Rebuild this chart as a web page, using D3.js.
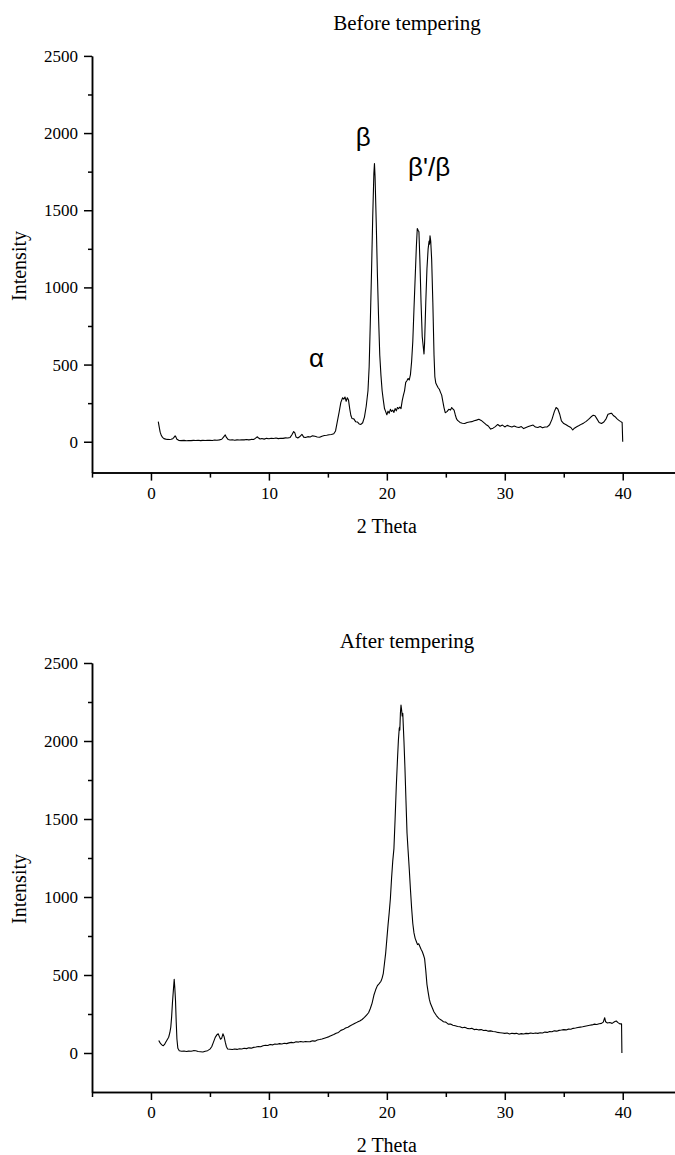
<!DOCTYPE html>
<html>
<head>
<meta charset="utf-8">
<script src="https://cdn.jsdelivr.net/npm/d3@7"></script>
<style>
  body { margin: 0; background: #fff; }
  svg { display: block; }
</style>
</head>
<body>
<svg width="675" height="1155"></svg>
<script>
// before tempering (2 theta, intensity)
const beforeTheta = [0.62,0.70,0.78,0.88,0.98,1.10,1.25,1.40,1.55,1.70,1.85,1.95,2.05,2.12,2.20,2.35,2.55,2.8,3.0,3.2,3.4,3.6,3.8,4.0,4.2,4.4,4.6,4.8,5.0,5.2,5.4,5.6,5.8,6.0,6.15,6.3,6.4,6.55,6.7,6.9,7.1,7.3,7.5,7.7,7.9,8.1,8.3,8.5,8.7,8.85,9.0,9.1,9.25,9.4,9.6,9.8,10.0,10.2,10.4,10.6,10.8,11.0,11.2,11.4,11.6,11.8,11.95,12.1,12.2,12.3,12.45,12.6,12.8,12.95,13.1,13.3,13.5,13.7,13.9,14.1,14.3,14.5,14.7,14.9,15.1,15.3,15.5,15.65,15.8,15.95,16.1,16.25,16.35,16.45,16.55,16.65,16.75,16.85,16.95,17.05,17.2,17.35,17.5,17.65,17.8,17.95,18.1,18.25,18.4,18.5,18.6,18.7,18.8,18.9,18.95,19.0,19.1,19.2,19.3,19.4,19.5,19.6,19.7,19.8,19.9,20.0,20.1,20.2,20.3,20.4,20.5,20.6,20.7,20.8,20.9,21.0,21.1,21.2,21.3,21.4,21.5,21.6,21.7,21.8,21.9,22.0,22.1,22.2,22.3,22.4,22.5,22.58,22.65,22.72,22.8,22.9,23.0,23.08,23.15,23.2,23.3,23.4,23.5,23.58,23.62,23.66,23.72,23.8,23.9,24.0,24.07,24.15,24.25,24.35,24.45,24.55,24.65,24.75,24.85,24.95,25.1,25.25,25.4,25.5,25.6,25.7,25.8,25.9,26.0,26.2,26.4,26.6,26.8,27.0,27.2,27.4,27.6,27.8,28.0,28.2,28.4,28.6,28.8,29.0,29.2,29.4,29.6,29.8,30.0,30.2,30.4,30.6,30.8,31.0,31.2,31.4,31.6,31.8,32.0,32.2,32.4,32.6,32.8,33.0,33.2,33.4,33.6,33.8,34.0,34.2,34.35,34.5,34.65,34.8,35.0,35.2,35.4,35.6,35.76,35.9,36.1,36.3,36.5,36.7,36.9,37.1,37.3,37.5,37.65,37.8,38.0,38.2,38.4,38.6,38.75,38.9,39.05,39.2,39.35,39.5,39.65,39.8,39.95,40.0];
const beforeIntensity = [130,95,62,40,28,20,17,15,14,16,20,28,38,30,16,9,7,9,6,8,7,9,8,10,7,9,8,10,9,8,11,10,12,16,30,44,28,14,11,13,10,12,11,13,12,14,12,15,14,22,32,26,18,21,17,22,19,23,21,24,20,23,22,25,24,28,45,66,58,30,24,32,48,30,27,33,31,38,35,31,29,36,40,42,45,47,52,70,130,190,255,285,276,290,262,285,270,215,170,150,148,130,128,115,112,123,160,230,330,486,780,1100,1450,1740,1803,1720,1420,1080,800,560,430,330,270,215,195,175,198,185,210,196,205,190,215,200,222,214,225,215,265,300,330,385,395,410,400,435,520,650,860,1060,1260,1382,1370,1360,1180,900,680,620,568,640,900,1120,1250,1300,1280,1334,1300,1180,900,560,421,380,365,350,340,320,302,260,220,188,195,210,205,222,212,205,175,150,138,125,120,118,125,128,130,136,140,146,138,125,112,102,82,88,98,112,100,108,96,106,100,95,102,96,92,98,85,92,98,104,108,95,92,98,90,95,96,110,145,195,222,212,180,135,118,110,100,92,76,88,97,105,114,122,132,145,160,172,168,150,125,118,128,150,178,182,185,170,162,150,140,132,125,0];

// after tempering
const afterTheta = [0.66,0.75,0.84,0.95,1.05,1.15,1.25,1.35,1.5,1.6,1.68,1.75,1.82,1.9,1.97,2.02,2.08,2.14,2.2,2.28,2.4,2.6,2.8,3.0,3.2,3.4,3.6,3.8,4.0,4.2,4.4,4.6,4.8,5.0,5.15,5.3,5.45,5.6,5.7,5.8,5.9,6.0,6.1,6.2,6.3,6.4,6.5,6.7,6.9,7.1,7.3,7.5,7.7,7.9,8.1,8.3,8.5,8.7,8.9,9.1,9.3,9.5,9.7,9.9,10.1,10.3,10.5,10.7,10.9,11.1,11.3,11.5,11.7,11.9,12.1,12.3,12.5,12.7,12.9,13.1,13.3,13.5,13.7,13.9,14.1,14.3,14.5,14.7,14.9,15.1,15.3,15.5,15.7,15.9,16.1,16.3,16.5,16.7,16.9,17.1,17.3,17.5,17.7,17.9,18.1,18.3,18.45,18.6,18.75,18.9,19.05,19.2,19.35,19.5,19.6,19.7,19.8,19.9,20.0,20.1,20.2,20.3,20.4,20.5,20.6,20.7,20.8,20.9,20.98,21.05,21.09,21.1,21.15,21.2,21.25,21.3,21.35,21.45,21.53,21.62,21.71,21.8,21.9,22.0,22.1,22.2,22.3,22.4,22.5,22.6,22.7,22.8,22.9,23.0,23.1,23.2,23.3,23.4,23.5,23.6,23.7,23.85,24.0,24.2,24.4,24.6,24.8,25.0,25.2,25.4,25.6,25.8,26.0,26.2,26.4,26.6,26.8,27.0,27.2,27.4,27.6,27.8,28.0,28.2,28.4,28.6,28.8,29.0,29.2,29.4,29.6,29.8,30.0,30.2,30.4,30.6,30.8,31.0,31.2,31.4,31.6,31.8,32.0,32.2,32.4,32.6,32.8,33.0,33.2,33.4,33.6,33.8,34.0,34.2,34.4,34.6,34.8,35.0,35.2,35.4,35.6,35.8,36.0,36.2,36.4,36.6,36.8,37.0,37.2,37.4,37.6,37.8,38.0,38.2,38.35,38.47,38.55,38.7,38.9,39.1,39.3,39.45,39.6,39.75,39.9,39.93];
const afterIntensity = [80,68,58,50,47,55,69,82,101,130,166,230,320,403,472,420,338,200,90,30,15,11,13,10,12,11,15,14,10,8,6,11,15,25,40,70,100,118,123,105,88,95,123,105,69,40,26,24,22,26,23,27,26,30,28,33,31,36,38,42,40,47,50,48,55,52,58,56,60,58,62,60,65,68,66,72,70,74,71,74,72,73,78,76,83,86,90,95,100,105,112,118,127,132,145,150,160,165,175,182,190,198,205,215,228,245,258,285,320,370,405,432,445,460,480,511,575,640,730,820,900,990,1120,1230,1310,1500,1708,1880,2006,2080,2091,2070,2180,2230,2200,2160,2177,2000,1836,1620,1410,1300,1180,1050,930,830,770,735,715,695,700,683,665,651,630,605,530,440,390,345,317,290,263,240,222,212,200,198,185,186,178,175,170,168,162,165,158,155,158,150,152,148,150,144,146,140,142,138,136,132,130,128,126,128,122,127,124,126,120,124,122,126,124,128,125,128,126,130,128,134,132,138,136,142,140,145,147,150,148,153,152,158,160,163,166,168,172,175,178,180,185,183,188,190,198,226,200,192,195,190,200,205,195,187,187,0];

const xTicks = [0, 10, 20, 30, 40];
const xMinorTicks = [-5, 5, 15, 25, 35, 45];
const yTicks = [0, 500, 1000, 1500, 2000, 2500];
const yMinorTicks = [250, 750, 1250, 1750, 2250];

const svg = d3.select('svg');
svg.append('rect').attr('width', 675).attr('height', 1155).attr('fill', '#fff');

const serif = '"Liberation Serif", "Times New Roman", serif';
const sans = '"Liberation Sans", Arial, sans-serif';

const x = d3.scaleLinear().domain([-5, 45]).range([92, 681.7]);

// black axis lines and serif tick labels
function styleAxis(sel) {
  sel.selectAll('path, line').attr('stroke', '#000').attr('stroke-width', 1.5);
  sel.selectAll('text')
    .attr('fill', '#000')
    .style('font-family', serif)
    .style('font-size', '17px');
}

function drawPanel(opts) {
  const y = d3.scaleLinear().domain(opts.yDomain).range(opts.yRange);
  const g = svg.append('g');
  const baseY = opts.yRange[0];

  // minor ticks first, then major axis with labels
  g.append('g')
    .attr('transform', `translate(0,${baseY})`)
    .call(d3.axisBottom(x).tickValues(xMinorTicks).tickSize(5).tickSizeOuter(0).tickFormat(''))
    .call(styleAxis);
  g.append('g')
    .attr('transform', `translate(0,${baseY})`)
    .call(d3.axisBottom(x).tickValues(xTicks).tickSize(8).tickSizeOuter(0).tickPadding(6).tickFormat(d3.format('d')))
    .call(styleAxis);

  g.append('g')
    .attr('transform', 'translate(92,0)')
    .call(d3.axisLeft(y).tickValues(yMinorTicks).tickSize(4).tickSizeOuter(0).tickFormat(''))
    .call(styleAxis);
  g.append('g')
    .attr('transform', 'translate(92,0)')
    .call(d3.axisLeft(y).tickValues(yTicks).tickSize(8).tickSizeOuter(0).tickPadding(6).tickFormat(d3.format('d')))
    .call(styleAxis);

  const line = d3.line().x(d => x(d[0])).y(d => y(d[1]));
  g.append('path')
    .datum(d3.zip(opts.theta, opts.intensity))
    .attr('d', line)
    .attr('fill', 'none')
    .attr('stroke', '#000')
    .attr('stroke-width', 1.1)
    .attr('stroke-linejoin', 'round');

  g.append('text')
    .attr('x', 407).attr('y', opts.titleY)
    .attr('text-anchor', 'middle')
    .style('font-family', serif).style('font-size', '21px')
    .text(opts.title);

  g.append('text')
    .attr('x', x(20)).attr('y', baseY + 60)
    .attr('text-anchor', 'middle')
    .style('font-family', serif).style('font-size', '20px')
    .text('2 Theta');

  g.append('text')
    .attr('transform', `translate(26,${opts.labelY}) rotate(-90)`)
    .attr('text-anchor', 'middle')
    .style('font-family', serif).style('font-size', '20px')
    .text('Intensity');

  (opts.notes || []).forEach(n => {
    g.append('text')
      .attr('x', x(n.theta)).attr('y', y(n.value))
      .attr('text-anchor', n.anchor)
      .style('font-family', sans).style('font-size', '26px')
      .text(n.text);
  });
}

drawPanel({
  title: 'Before tempering', titleY: 30, labelY: 266,
  yDomain: [-200, 2500], yRange: [472.6, 55.9],
  theta: beforeTheta, intensity: beforeIntensity,
  notes: [
    { text: 'β', theta: 18.0, value: 1915, anchor: 'middle' },
    { text: 'β\'/β', theta: 21.8, value: 1720, anchor: 'start' },
    { text: 'α', theta: 13.4, value: 485, anchor: 'start' }
  ]
});

drawPanel({
  title: 'After tempering', titleY: 648, labelY: 889,
  yDomain: [-250, 2500], yRange: [1092, 663],
  theta: afterTheta, intensity: afterIntensity
});
</script>
</body>
</html>
